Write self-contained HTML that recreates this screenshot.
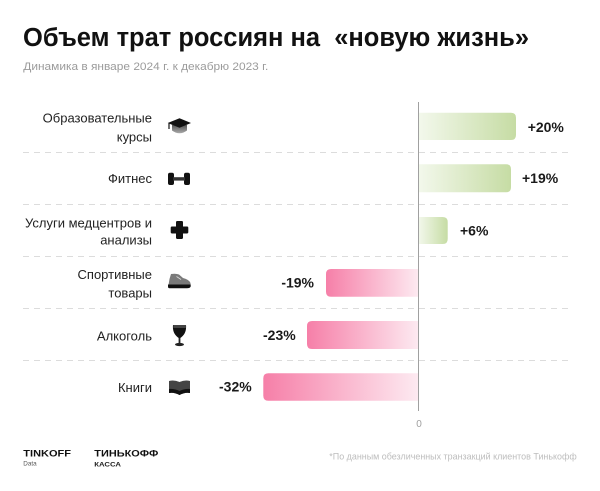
<!DOCTYPE html>
<html>
<head>
<meta charset="utf-8">
<style>
html,body{margin:0;padding:0;background:#fff;}
svg{display:block;}
text{font-family:"Liberation Sans","Noto Sans CJK SC",sans-serif;white-space:pre;}
</style>
</head>
<body>
<svg width="600" height="491" viewBox="0 0 600 491" xmlns="http://www.w3.org/2000/svg">
<defs>
<linearGradient id="gp" x1="0" y1="0" x2="1" y2="0">
<stop offset="0" stop-color="#f3f8ec"/>
<stop offset="1" stop-color="#c6dca4"/>
</linearGradient>
<linearGradient id="gn" x1="1" y1="0" x2="0" y2="0">
<stop offset="0" stop-color="#fdeaf1"/>
<stop offset="1" stop-color="#f67fa8"/>
</linearGradient>
<linearGradient id="capg" x1="0" y1="0" x2="0" y2="1">
<stop offset="0" stop-color="#555"/>
<stop offset="1" stop-color="#aaa"/>
</linearGradient>
</defs>

<!-- Title -->
<text x="23" y="46" font-size="25.5" font-weight="bold" fill="#111" textLength="506" lengthAdjust="spacingAndGlyphs">Объем трат россиян на  «новую жизнь»</text>
<text x="23.3" y="70" font-size="11" fill="#9b9b9b" textLength="245" lengthAdjust="spacingAndGlyphs">Динамика в январе 2024 г. к декабрю 2023 г.</text>

<!-- dashed separators -->
<g stroke="#dcdcdc" stroke-width="1" stroke-dasharray="6 5">
<line x1="23" y1="152.5" x2="573" y2="152.5"/>
<line x1="23" y1="204.5" x2="573" y2="204.5"/>
<line x1="23" y1="256.5" x2="573" y2="256.5"/>
<line x1="23" y1="308.5" x2="573" y2="308.5"/>
<line x1="23" y1="360.5" x2="573" y2="360.5"/>
</g>

<!-- bars positive -->
<path d="M418.5 112.7 H511 Q516 112.7 516 117.7 V135 Q516 140 511 140 H418.5 Z" fill="url(#gp)"/>
<path d="M418.5 164.3 H506 Q511 164.3 511 169.3 V187.3 Q511 192.3 506 192.3 H418.5 Z" fill="url(#gp)"/>
<path d="M418.5 217 H442.7 Q447.7 217 447.7 222 V239 Q447.7 244 442.7 244 H418.5 Z" fill="url(#gp)"/>

<!-- bars negative -->
<path d="M418.5 269 H331 Q326 269 326 274 V291.7 Q326 296.7 331 296.7 H418.5 Z" fill="url(#gn)"/>
<path d="M418.5 321 H312 Q307 321 307 326 V344 Q307 349 312 349 H418.5 Z" fill="url(#gn)"/>
<path d="M418.5 373.3 H268.3 Q263.3 373.3 263.3 378.3 V395.7 Q263.3 400.7 268.3 400.7 H418.5 Z" fill="url(#gn)"/>

<!-- axis -->
<line x1="418.5" y1="102" x2="418.5" y2="411" stroke="#a0a0a0" stroke-width="1"/>
<text x="419" y="427" font-size="10" fill="#a0a0a0" text-anchor="middle">0</text>

<!-- value labels -->
<g font-size="14" font-weight="bold" fill="#1a1a1a">
<text x="527.7" y="132">+20%</text>
<text x="522" y="183">+19%</text>
<text x="460" y="235.7">+6%</text>
<text x="314" y="287.7" text-anchor="end">-19%</text>
<text x="295.7" y="340" text-anchor="end">-23%</text>
<text x="251.7" y="391.7" text-anchor="end">-32%</text>
</g>

<!-- category labels -->
<g font-size="13" fill="#222" text-anchor="end">
<text x="152" y="122.3">Образовательные</text>
<text x="152" y="141.3">курсы</text>
<text x="152" y="183">Фитнес</text>
<text x="152" y="227.3">Услуги медцентров и</text>
<text x="152" y="244.6">анализы</text>
<text x="152" y="279">Спортивные</text>
<text x="152" y="297.3">товары</text>
<text x="152" y="340.3">Алкоголь</text>
<text x="152" y="392">Книги</text>
</g>

<!-- icons -->
<!-- graduation cap -->
<path d="M172 125 H187 V130.5 Q179.5 136 172 130.5 Z" fill="url(#capg)"/>
<polygon points="167.7,123 179.5,118.3 191,123 179.5,127.8" fill="#111"/>
<line x1="169" y1="123.5" x2="169" y2="129" stroke="#111" stroke-width="1.2"/>
<!-- dumbbell -->
<rect x="168" y="172.7" width="6" height="12.3" rx="2" fill="#111"/>
<rect x="184" y="172.7" width="6" height="12.3" rx="2" fill="#111"/>
<rect x="173" y="177.2" width="12" height="3.4" fill="#333"/>
<!-- cross -->
<rect x="176" y="221" width="7" height="18" rx="1.2" fill="#111"/>
<rect x="170.7" y="226.5" width="17.6" height="7" rx="1.2" fill="#111"/>
<!-- shoe -->
<path d="M171 274 Q176 273.3 179 274.5 L183 278 Q189 279.5 190.5 283 L190.5 285 H168.5 L169.5 279 Z" fill="#7a7a7a"/>
<path d="M168 284.5 H190.7 V286.5 Q190 288.3 187 288.3 H169.5 Q168 288.3 168 286.5 Z" fill="#111"/>
<path d="M176.5 276.5 L181 279.5" stroke="#ddd" stroke-width="0.8"/>
<!-- glass -->
<path d="M173 325 H186 Q187 334 179.5 338.5 Q172 334 173 325 Z" fill="#111"/>
<path d="M173.3 325 H186 L185.8 328 H173.4 Z" fill="#444"/>
<rect x="178.6" y="338" width="1.8" height="5.5" fill="#222"/>
<ellipse cx="179.5" cy="344.5" rx="4.5" ry="1.6" fill="#222"/>
<!-- book -->
<path d="M169 381 Q174 379.5 179.5 382 Q185 379.5 190 381 V393 Q185 392 179.5 395 Q174 392 169 393 Z" fill="#444"/>
<path d="M169 389 Q174 388.5 179.5 391 Q185 388.5 190 389 V393 Q185 392 179.5 395 Q174 392 169 393 Z" fill="#111"/>

<!-- footer -->
<text x="23.3" y="456.7" font-size="9" font-weight="bold" fill="#111" textLength="47.7" lengthAdjust="spacingAndGlyphs">TINKOFF</text>
<text x="23.3" y="465.5" font-size="6.5" fill="#555" textLength="13.4" lengthAdjust="spacingAndGlyphs">Data</text>
<text x="94.3" y="456.7" font-size="9" font-weight="bold" fill="#111" textLength="64" lengthAdjust="spacingAndGlyphs">ТИНЬКОФФ</text>
<text x="94.3" y="466.7" font-size="6" font-weight="bold" fill="#222" textLength="26.7" lengthAdjust="spacingAndGlyphs">КАССА</text>
<text x="329.3" y="459.3" font-size="9.5" fill="#bdbdbd" textLength="247.4" lengthAdjust="spacingAndGlyphs">*По данным обезличенных транзакций клиентов Тинькофф</text>
</svg>
</body>
</html>
